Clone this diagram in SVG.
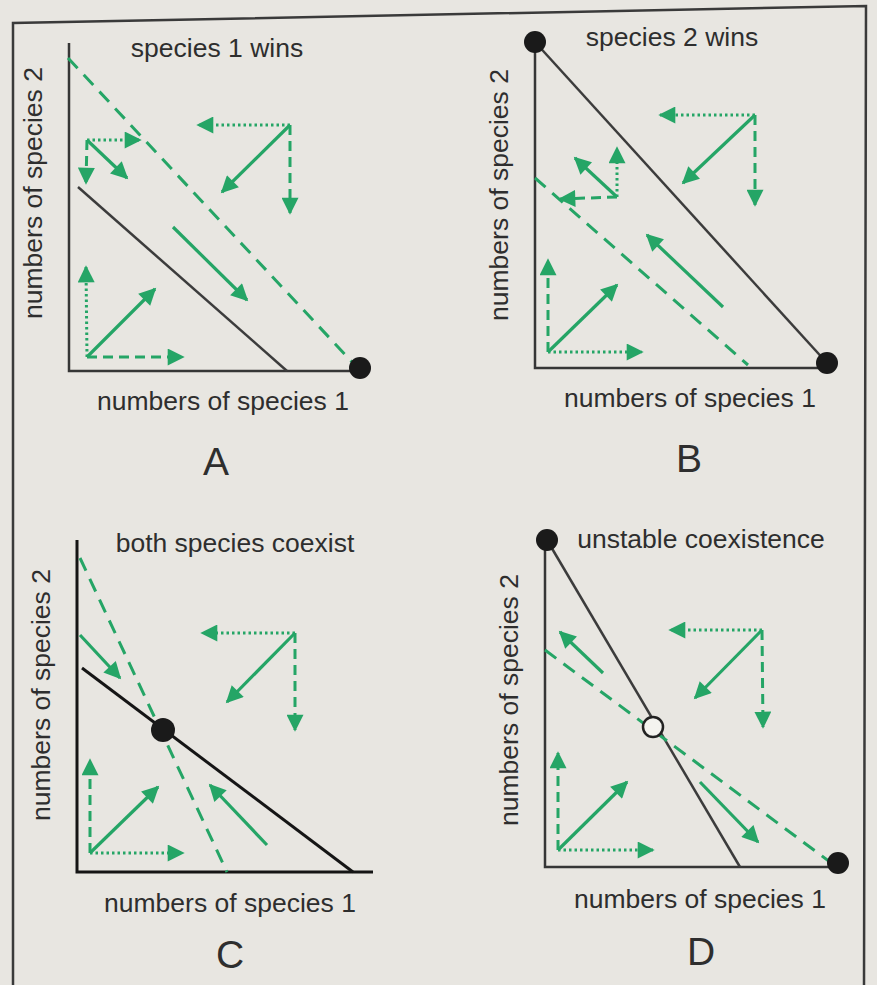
<svg xmlns="http://www.w3.org/2000/svg" width="877" height="985" viewBox="0 0 877 985">
<defs>
<marker id="ah" viewBox="0 0 10 10" refX="9" refY="5" markerWidth="22" markerHeight="17" markerUnits="userSpaceOnUse" orient="auto"><path d="M0,0 L10,5 L0,10 z" fill="#25a566"/></marker>
<style>
text{font-family:"Liberation Sans",Arial,sans-serif;fill:#2e2e2e}
.t{font-size:26.5px}
.lbl{font-size:26.5px}
.big{font-size:39px;text-anchor:middle}
.ax{fill:none;stroke:#363636;stroke-width:2.5}
.axc{fill:none;stroke:#151515;stroke-width:3}
.iso{stroke:#3c3c3c;stroke-width:2.5}
.isoc{stroke:#151515;stroke-width:3}
.gd{stroke:#25a566;stroke-width:3;stroke-dasharray:14 9;fill:none}
.s{stroke:#25a566;stroke-width:3.2;marker-end:url(#ah)}
.d{stroke:#25a566;stroke-width:3;stroke-dasharray:10 6;marker-end:url(#ah)}
.o{stroke:#25a566;stroke-width:3;stroke-dasharray:2.5 3;marker-end:url(#ah)}
.dot{fill:#1a1a1a}
</style>
</defs>
<rect width="877" height="985" fill="#e8e6e1"/>
<path d="M13,985 L13,23 L866,6 L864,985" fill="none" stroke="#3a3a3a" stroke-width="2.5"/>

<g id="panelA">
<path class="ax" d="M69,43 L69,371 L358,371"/>
<line class="iso" x1="78" y1="187" x2="287" y2="371"/>
<line class="gd" x1="68" y1="58" x2="353" y2="363"/>
<g id="A-eq"><circle class="dot" cx="360" cy="368" r="11"/></g>
<text class="t" x="217" y="57" text-anchor="middle">species 1 wins</text>
<text class="lbl" x="223" y="410" text-anchor="middle">numbers of species 1</text>
<text class="lbl" transform="translate(42,193) rotate(-90)" text-anchor="middle">numbers of species 2</text>
<text class="big" x="216" y="475">A</text>
<g id="A-connectors">
<line class="o" x1="87" y1="140" x2="140" y2="140"/>
<line class="d" x1="87" y1="140" x2="86" y2="183"/>
<line class="s" x1="87" y1="140" x2="127" y2="178"/>
<line class="o" x1="290" y1="125" x2="198" y2="125"/>
<line class="d" x1="290" y1="125" x2="290" y2="213"/>
<line class="s" x1="290" y1="125" x2="222" y2="192"/>
<line class="s" x1="173" y1="227" x2="247" y2="300"/>
<line class="o" x1="87" y1="357" x2="86" y2="267"/>
<line class="d" x1="87" y1="357" x2="183" y2="357"/>
<line class="s" x1="87" y1="357" x2="155" y2="289"/>
</g>
</g>

<g id="panelB">
<path class="ax" d="M535,42 L535,368 L827,368"/>
<line class="iso" x1="535" y1="42" x2="827" y2="363"/>
<line class="gd" x1="535" y1="178" x2="748" y2="365"/>
<g id="B-eq1"><circle class="dot" cx="535" cy="42" r="11"/></g>
<g id="B-eq2"><circle class="dot" cx="827" cy="363" r="11"/></g>
<text class="t" x="672" y="46" text-anchor="middle">species 2 wins</text>
<text class="lbl" x="690" y="407" text-anchor="middle">numbers of species 1</text>
<text class="lbl" transform="translate(508,195) rotate(-90)" text-anchor="middle">numbers of species 2</text>
<text class="big" x="689" y="472">B</text>
<g id="B-connectors">
<line class="o" x1="755" y1="115" x2="660" y2="115"/>
<line class="d" x1="755" y1="115" x2="755" y2="205"/>
<line class="s" x1="755" y1="115" x2="683" y2="183"/>
<line class="o" x1="617" y1="197" x2="617" y2="148"/>
<line class="d" x1="617" y1="197" x2="560" y2="199"/>
<line class="s" x1="617" y1="197" x2="575" y2="158"/>
<line class="s" x1="723" y1="307" x2="647" y2="235"/>
<line class="d" x1="548" y1="352" x2="548" y2="260"/>
<line class="o" x1="548" y1="352" x2="642" y2="352"/>
<line class="s" x1="548" y1="352" x2="617" y2="285"/>
</g>
</g>

<g id="panelC">
<path class="axc" d="M77,540 L77,872 L373,872"/>
<line class="isoc" x1="82" y1="668" x2="353" y2="872"/>
<line class="gd" x1="80" y1="558" x2="227" y2="872"/>
<g id="C-eq"><circle class="dot" cx="163" cy="730" r="12"/></g>
<text class="t" x="235" y="552" text-anchor="middle">both species coexist</text>
<text class="lbl" x="230" y="912" text-anchor="middle">numbers of species 1</text>
<text class="lbl" transform="translate(50,695) rotate(-90)" text-anchor="middle">numbers of species 2</text>
<text class="big" x="230" y="968">C</text>
<g id="C-connectors">
<line class="s" x1="80" y1="635" x2="120" y2="678"/>
<line class="o" x1="295" y1="633" x2="202" y2="633"/>
<line class="d" x1="295" y1="633" x2="295" y2="730"/>
<line class="s" x1="295" y1="633" x2="227" y2="702"/>
<line class="d" x1="90" y1="853" x2="90" y2="760"/>
<line class="o" x1="90" y1="853" x2="183" y2="853"/>
<line class="s" x1="90" y1="853" x2="158" y2="787"/>
<line class="s" x1="267" y1="845" x2="210" y2="785"/>
</g>
</g>

<g id="panelD">
<path class="ax" d="M545,540 L545,867 L838,867"/>
<line class="iso" x1="547" y1="540" x2="740" y2="867"/>
<line class="gd" x1="545" y1="650" x2="830" y2="862"/>
<g id="D-eq1"><circle class="dot" cx="547" cy="540" r="11"/></g>
<g id="D-eq2"><circle class="dot" cx="838" cy="863" r="11"/></g>
<g id="D-unstable"><circle cx="653" cy="727" r="10" fill="#f4f3ef" stroke="#222" stroke-width="2.5"/></g>
<text class="t" x="701" y="548" text-anchor="middle">unstable coexistence</text>
<text class="lbl" x="700" y="908" text-anchor="middle">numbers of species 1</text>
<text class="lbl" transform="translate(518,700) rotate(-90)" text-anchor="middle">numbers of species 2</text>
<text class="big" x="701" y="965">D</text>
<g id="D-connectors">
<line class="s" x1="603" y1="673" x2="560" y2="632"/>
<line class="o" x1="762" y1="630" x2="670" y2="630"/>
<line class="d" x1="762" y1="630" x2="763" y2="727"/>
<line class="s" x1="762" y1="630" x2="695" y2="698"/>
<line class="s" x1="700" y1="782" x2="758" y2="842"/>
<line class="d" x1="558" y1="850" x2="558" y2="753"/>
<line class="o" x1="558" y1="850" x2="653" y2="850"/>
<line class="s" x1="558" y1="850" x2="627" y2="782"/>
</g>
</g>
</svg>
